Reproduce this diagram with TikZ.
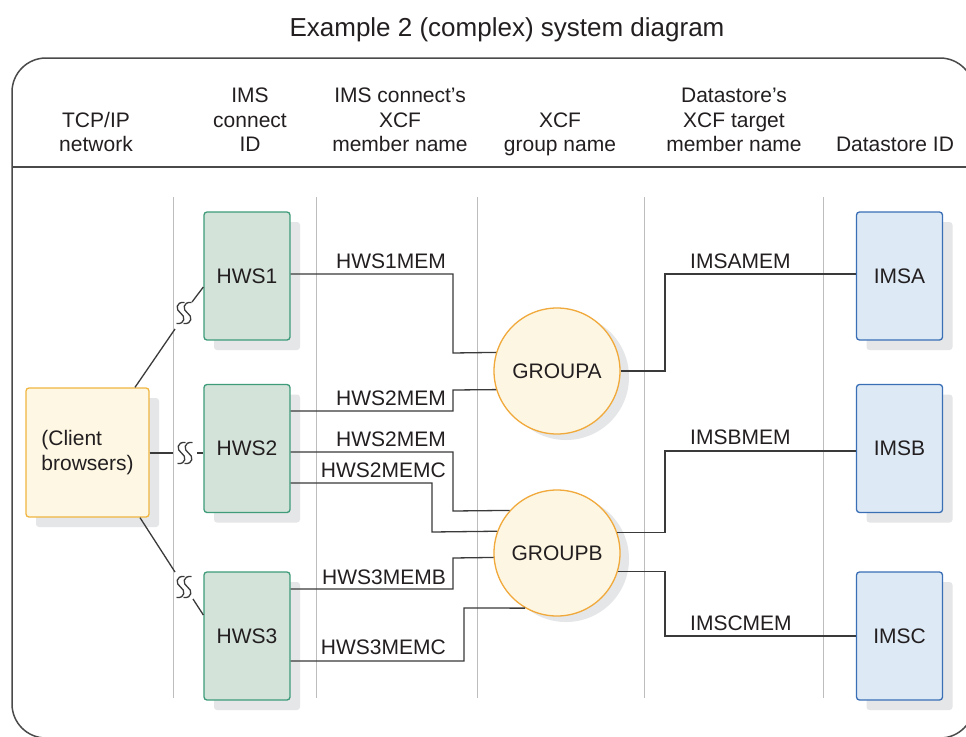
\documentclass[tikz,border=0pt]{standalone}
\usepackage{fontspec}
\setmainfont{Liberation Sans}
\usetikzlibrary{shadows}
\definecolor{ink}{HTML}{231F20}
\definecolor{linegray}{HTML}{3A3A3A}
\definecolor{framegray}{HTML}{4A4A4A}
\definecolor{colgray}{HTML}{BDBDBD}
\definecolor{shadowgray}{HTML}{E5E6E7}
\definecolor{hwsfill}{HTML}{D3E3DA}
\definecolor{hwsdraw}{HTML}{3E9C7A}
\definecolor{imsfill}{HTML}{DDE9F5}
\definecolor{imsdraw}{HTML}{3A6FB6}
\definecolor{clifill}{HTML}{FDF7E4}
\definecolor{clidraw}{HTML}{F0B640}
\definecolor{grpfill}{HTML}{FDF6E2}
\definecolor{grpdraw}{HTML}{F0A93A}
\begin{document}
\begin{tikzpicture}[x=1pt,y=-1pt,
  every node/.style={text=ink},
  lbl/.style={font=\fontsize{21}{24.5}\selectfont, inner sep=0pt},
  hdr/.style={lbl, align=center, anchor=base},
  boxbase/.style={rectangle, rounded corners=3pt, line width=1.3pt,
    minimum width=86pt, minimum height=128pt, inner sep=0pt,
    font=\fontsize{21}{24.5}\selectfont,
    drop shadow={shadow xshift=10pt, shadow yshift=-10pt, fill=shadowgray, opacity=1}},
  hwsbox/.style={boxbase, fill=hwsfill, draw=hwsdraw},
  imsbox/.style={boxbase, fill=imsfill, draw=imsdraw},
  clibox/.style={boxbase, fill=clifill, draw=clidraw, minimum width=123pt, minimum height=129pt, align=left},
  grp/.style={circle, minimum size=126pt, inner sep=0pt, line width=1.3pt,
    fill=grpfill, draw=grpdraw, font=\fontsize{21}{24.5}\selectfont,
    drop shadow={shadow xshift=9pt, shadow yshift=-6pt, fill=shadowgray, opacity=1}},
  conn/.style={draw=linegray, line width=1.3pt},
  col/.style={draw=colgray, line width=1pt},
  frame/.style={draw=framegray, line width=1.5pt},
  brk/.pic={
    \foreach \dx in {-3.5,3.5} {
      \draw[conn, line width=1.3pt] (\dx+4,-10.5) .. controls (\dx-5,-11.5) and (\dx-5,-3) .. (\dx,0)
        .. controls (\dx+5,3) and (\dx+5,11.5) .. (\dx-4,10.5);
    }
  }
]
\useasboundingbox (0,0) rectangle (966,736);
\fill[white] (0,0) rectangle (966,736);

% title
\node[font=\fontsize{26}{30}\selectfont, inner sep=0pt, anchor=base] (title) at (507,36.5) {Example 2 (complex) system diagram};

% frame and header rule
\begin{scope}
  \clip (0,0) rectangle (966,736);
  \draw[frame, rounded corners=34pt] (12,58) rectangle (974,738);
  \draw[frame] (12,167) -- (974,167);
\end{scope}

% headers (base = baseline of the last line)
\node[hdr] (hTCP) at (96,151.5) {TCP/IP\\network};
\node[hdr] (hIMS) at (250,151.5) {IMS\\connect\\ID};
\node[hdr] (hXCFm) at (400,151.5) {IMS connect's\\XCF\\member name};
\node[hdr] (hXCFg) at (560,151.5) {XCF\\group name};
\node[hdr] (hDST) at (734,151.5) {Datastore's\\XCF target\\member name};
\node[hdr] (hDID) at (895,151.5) {Datastore ID};

% column separators
\foreach \cx in {173,316,477,644,823} {
  \draw[col] (\cx,197) -- (\cx,698);
}

% nodes
\node[clibox] (cb) at (87.5,452.5) {(Client\\browsers)};
\node[hwsbox] (h1) at (247,276) {HWS1};
\node[hwsbox] (h2) at (247,448.5) {HWS2};
\node[hwsbox] (h3) at (247,636) {HWS3};
\node[grp] (GA) at (557,371) {GROUPA};
\node[grp] (GB) at (557,553) {GROUPB};
\node[imsbox] (ia) at (899.5,276) {IMSA};
\node[imsbox] (ib) at (899.5,448.5) {IMSB};
\node[imsbox] (ic) at (899.5,636) {IMSC};

% client to IMS connect links with breaks
\coordinate (c1a) at (175,329);
\coordinate (c1b) at (192,302);
\draw[conn] (cb.north -| 135,0) -- (c1a);
\draw[conn] (c1b) -- (h1.west |- 0,287);
\pic at (184,313) {brk};

\coordinate (c2a) at (173,453);
\coordinate (c2b) at (197,453);
\draw[conn] (cb.east |- c2a) -- (c2a);
\draw[conn] (c2b) -- (h2.west |- c2b);
\pic at (185,453) {brk};

\coordinate (c3a) at (175,572);
\coordinate (c3b) at (193,599);
\draw[conn] (cb.south -| 140,0) -- (c3a);
\draw[conn] (c3b) -- (h3.west |- 0,615);
\pic at (184,587) {brk};

% IMS connect to XCF groups
\draw[conn] (h1.east |- 0,274) -| (453,353) -- (GA.163.4);
\draw[conn] (h2.east |- 0,411) -| (453,390) -- (GA.197.6);
\draw[conn] (h2.east |- 0,452) -| (453,511) -- (GB.138.2);
\draw[conn] (h2.east |- 0,483) -| (432,532) -- (GB.160.5);
\draw[conn] (h3.east |- 0,589) -| (453,558) -- (GB.184.5);
\draw[conn] (h3.east |- 0,661) -| (464,608) -- (GB.240.8);

% XCF groups to datastores
\draw[conn] (GA.east) -| (665,274) -- (ia.west |- 0,274);
\draw[conn] (GB.19.5) -| (665,451) -- (ib.west |- 0,451);
\draw[conn] (GB.343.4) -| (665,636) -- (ic.west |- 0,636);

% connector labels
\node[lbl, anchor=base east] (l1) at (446,268.5) {HWS1MEM};
\node[lbl, anchor=base east] (l2) at (446,405.5) {HWS2MEM};
\node[lbl, anchor=base east] (l3) at (446,446.5) {HWS2MEM};
\node[lbl, anchor=base east] (l4) at (446,477.5) {HWS2MEMC};
\node[lbl, anchor=base east] (l5) at (446,584) {HWS3MEMB};
\node[lbl, anchor=base east] (l6) at (446,654.5) {HWS3MEMC};
\node[lbl, anchor=base west] (l7) at (690,268.5) {IMSAMEM};
\node[lbl, anchor=base west] (l8) at (690,444.5) {IMSBMEM};
\node[lbl, anchor=base west] (l9) at (690,630.5) {IMSCMEM};
\end{tikzpicture}
\end{document}
